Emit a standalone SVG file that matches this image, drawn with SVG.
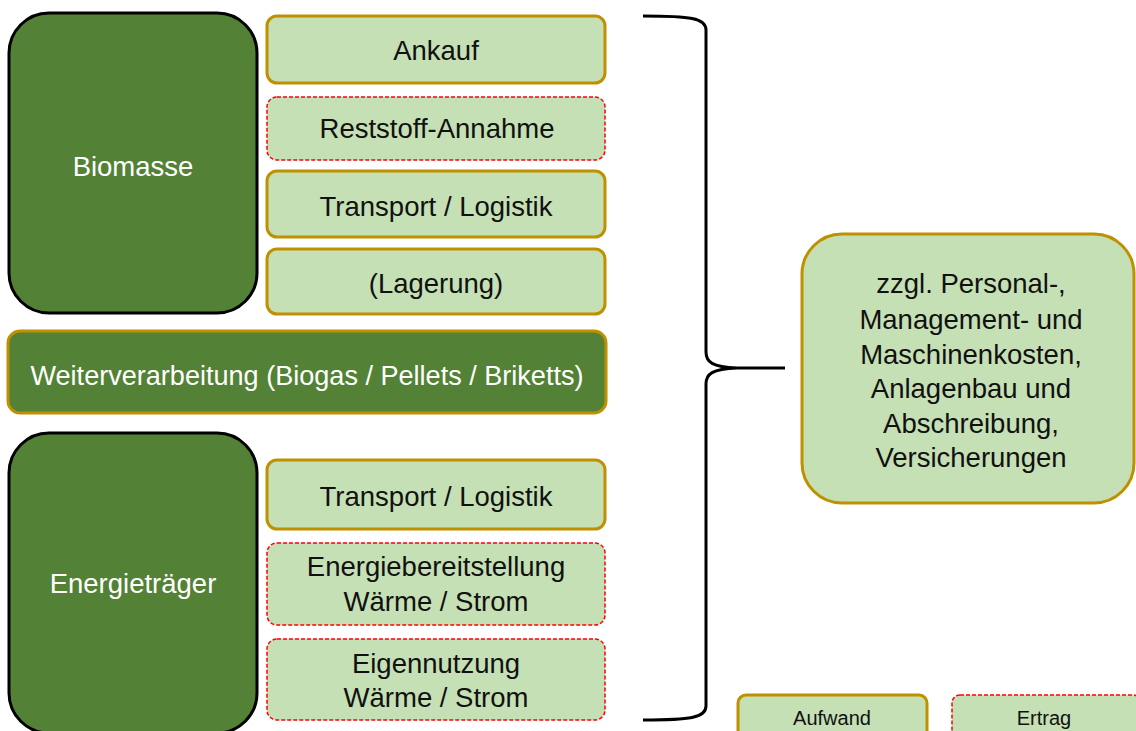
<svg xmlns="http://www.w3.org/2000/svg" width="1136" height="731" viewBox="0 0 1136 731">
<style>
.dark{fill:#538135;stroke:#000;stroke-width:3}
.band{fill:#538135;stroke:#BF9000;stroke-width:3}
.cost{fill:#C5E0B4;stroke:#BF9000;stroke-width:3}
.gain{fill:#C5E0B4;stroke:#FF0000;stroke-width:1.5;stroke-dasharray:4 2}
text{font-family:"Liberation Sans",Arial,sans-serif;font-size:27.5px;text-anchor:middle;fill:#111}
.w{fill:#fff}
.lg{font-size:20px}
</style>
<rect width="1136" height="731" fill="#fff"/>
<g id="biomasse"><rect class="dark" x="9" y="13" width="248" height="300" rx="40"/><text class="w" x="133" y="176">Biomasse</text></g>
<g id="ankauf"><rect class="cost" x="267" y="16" width="338" height="67" rx="10"/><text x="436" y="60">Ankauf</text></g>
<g id="reststoff"><rect class="gain" x="267" y="97" width="338" height="63" rx="10"/><text x="437" y="138">Reststoff-Annahme</text></g>
<g id="transport1"><rect class="cost" x="267" y="171" width="338" height="66" rx="10"/><text x="436" y="216">Transport / Logistik</text></g>
<g id="lagerung"><rect class="cost" x="267" y="249" width="338" height="65" rx="10"/><text x="436" y="293">(Lagerung)</text></g>
<g id="weiterverarbeitung"><rect class="band" x="8" y="331" width="598" height="82" rx="12"/><text class="w" x="307" y="385" textLength="553" lengthAdjust="spacingAndGlyphs">Weiterverarbeitung (Biogas / Pellets / Briketts)</text></g>
<g id="energietraeger"><rect class="dark" x="9" y="433" width="248" height="300" rx="40"/><text class="w" x="133" y="593">Energieträger</text></g>
<g id="transport2"><rect class="cost" x="267" y="460" width="338" height="69" rx="10"/><text x="436" y="506">Transport / Logistik</text></g>
<g id="energiebereitstellung"><rect class="gain" x="267" y="543" width="338" height="82" rx="10"/><text x="436" y="576">Energiebereitstellung</text><text x="436" y="611">Wärme / Strom</text></g>
<g id="eigennutzung"><rect class="gain" x="267" y="639" width="338" height="81" rx="10"/><text x="436" y="673">Eigennutzung</text><text x="436" y="707">Wärme / Strom</text></g>
<g id="connectors"><path d="M643,16 C690,16 706,18 706,30 L706,352 C706,362 712,367 737,368 L785,368 M737,368 C712,369 706,374 706,384 L706,706 C706,718 690,720 643,720" fill="none" stroke="#000" stroke-width="3"/></g>
<g id="zusatzkosten"><rect class="cost" x="802" y="234" width="332" height="269" rx="40"/>
<text x="971" y="293">zzgl. Personal-,</text><text x="971" y="329">Management- und</text><text x="971" y="364">Maschinenkosten,</text><text x="971" y="398">Anlagenbau und</text><text x="971" y="433">Abschreibung,</text><text x="971" y="467">Versicherungen</text></g>
<g id="legend-aufwand"><rect class="cost" x="738" y="695" width="189" height="45" rx="8"/><text class="lg" x="832" y="725">Aufwand</text></g>
<g id="legend-ertrag"><rect class="gain" x="952" y="695" width="189" height="45" rx="8"/><text class="lg" x="1044" y="725">Ertrag</text></g>
</svg>
